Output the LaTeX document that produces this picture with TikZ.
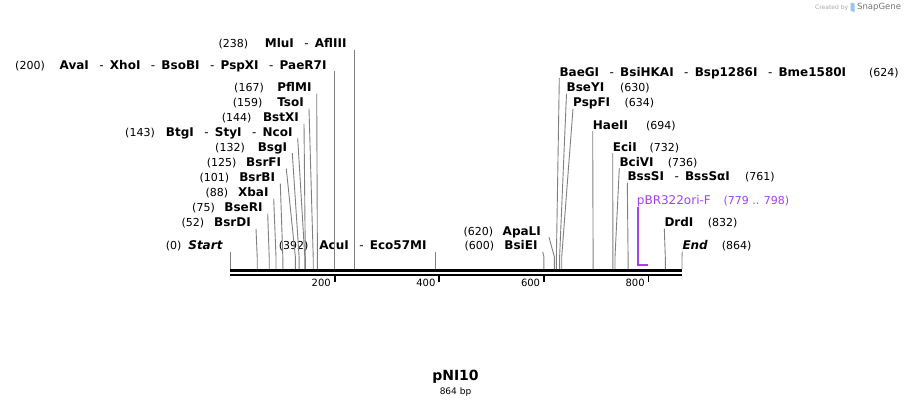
\documentclass[tikz,border=0pt]{standalone}
\usepackage{fontspec}
\setmainfont{DejaVu Sans}[BoldFont={DejaVu Sans Bold},ItalicFont={DejaVu Sans Oblique},BoldItalicFont={DejaVu Sans Bold Oblique}]
\definecolor{cutgray}{RGB}{128,128,128}
\definecolor{primerpurple}{RGB}{164,64,240}
\definecolor{snapblue}{RGB}{150,200,235}
\newcommand{\dsh}{\hspace{10.5bp}{\mdseries-}\hspace{6.2bp}}
\tikzset{
  enzname/.style={inner sep=0pt, text height=8.75bp, text depth=2bp,
    font=\fontsize{12bp}{14bp}\selectfont\bfseries},
  sitenum/.style={inner sep=0pt, font=\fontsize{11bp}{13bp}\selectfont},
  ticklbl/.style={inner sep=0pt, font=\fontsize{10bp}{12bp}\selectfont},
  cutline/.style={draw=cutgray, line width=0.9bp},
  primerline/.style={draw=primerpurple, line width=2bp},
}
\begin{document}
\begin{tikzpicture}[x=1bp,y=-1bp]
% map of pNI10, 864 bp; positions are 230 + bp*452/864
  \useasboundingbox (0,0) rectangle (912,408);
  \node[anchor=west, inner sep=0pt, text=black!35, font=\fontsize{6bp}{7bp}\selectfont] (credit) at (815,7.5) {Created by};
  \fill[snapblue] (850.5,2.5) -- (854.5,3.5) -- (854.5,12) -- (850.5,11) -- cycle;
  \node[anchor=west, inner sep=0pt, text=black!55, font=\fontsize{8.5bp}{10bp}\selectfont] (snapgene) at (857,7.5) {SnapGene};
  \coordinate (kink) at (0,257);
  \coordinate (s0) at (230,269);
  \coordinate (s52) at (257.2,269);
  \coordinate (s75) at (269.2,269);
  \coordinate (s88) at (276.0,269);
  \coordinate (s101) at (282.8,269);
  \coordinate (s125) at (295.4,269);
  \coordinate (s132) at (299.1,269);
  \coordinate (s143) at (304.8,269);
  \coordinate (s144) at (305.3,269);
  \coordinate (s159) at (313.2,269);
  \coordinate (s167) at (317.4,269);
  \coordinate (s200) at (334.6,269);
  \coordinate (s238) at (354.5,269);
  \coordinate (s392) at (435.1,269);
  \coordinate (s600) at (543.9,269);
  \coordinate (s620) at (554.4,269);
  \coordinate (s624) at (556.4,269);
  \coordinate (s630) at (559.6,269);
  \coordinate (s634) at (561.7,269);
  \coordinate (s694) at (593.1,269);
  \coordinate (s732) at (612.9,269);
  \coordinate (s736) at (615.0,269);
  \coordinate (s761) at (628.1,269);
  \coordinate (p779) at (637.5,265);
  \coordinate (p798) at (647.5,265);
  \coordinate (s832) at (665.3,269);
  \coordinate (s864) at (682.0,269);
  % backbone and ruler
  \draw[line width=3bp] (230,270) -- (682,270);
  \draw[line width=2.4bp] (230,274.8) -- (682,274.8);
  \draw[line width=1.8bp] (334.6,275.5) -- (334.6,282);
  \draw[line width=1.8bp] (439.2,275.5) -- (439.2,282);
  \draw[line width=1.8bp] (543.9,275.5) -- (543.9,282);
  \draw[line width=1.8bp] (648.5,275.5) -- (648.5,282);
  \node[ticklbl, anchor=east] (l200) at (331,282.5) {200};
  \node[ticklbl, anchor=east] (l400) at (435.6,282.5) {400};
  \node[ticklbl, anchor=east] (l600) at (540.3,282.5) {600};
  \node[ticklbl, anchor=east] (l800) at (644.9,282.5) {800};
  % labels left of their sites
  \node[sitenum, anchor=base east] (n238) at (248.3,47.5) {(238)};
  \node[enzname, anchor=base east] (mlui) at (346.7,47.5) {MluI\dsh AflIII};
  \node[sitenum, anchor=base east] (n200) at (45,69) {(200)};
  \node[enzname, anchor=base east] (paer7i) at (326.7,69) {AvaI\dsh XhoI\dsh BsoBI\dsh PspXI\dsh PaeR7I};
  \node[sitenum, anchor=base east] (n167) at (264,91.5) {(167)};
  \node[enzname, anchor=base east] (pflmi) at (311.7,91.5) {PflMI};
  \node[sitenum, anchor=base east] (n159) at (262.7,106.5) {(159)};
  \node[enzname, anchor=base east] (tsoi) at (304,106.5) {TsoI};
  \node[sitenum, anchor=base east] (n144) at (251.7,121.5) {(144)};
  \node[enzname, anchor=base east] (bstxi) at (299,121.5) {BstXI};
  \node[sitenum, anchor=base east] (n143) at (155,136) {(143)};
  \node[enzname, anchor=base east] (ncoi) at (292.7,136) {BtgI\dsh StyI\dsh NcoI};
  \node[sitenum, anchor=base east] (n132) at (245,151) {(132)};
  \node[enzname, anchor=base east] (bsgi) at (287.3,151) {BsgI};
  \node[sitenum, anchor=base east] (n125) at (236.7,166.5) {(125)};
  \node[enzname, anchor=base east] (bsrfi) at (281.3,166.5) {BsrFI};
  \node[sitenum, anchor=base east] (n101) at (229.3,181.5) {(101)};
  \node[enzname, anchor=base east] (bsrbi) at (275.3,181.5) {BsrBI};
  \node[sitenum, anchor=base east] (n88) at (228.3,196.5) {(88)};
  \node[enzname, anchor=base east] (xbai) at (268.7,196.5) {XbaI};
  \node[sitenum, anchor=base east] (n75) at (215,211.5) {(75)};
  \node[enzname, anchor=base east] (bseri) at (262.7,211.5) {BseRI};
  \node[sitenum, anchor=base east] (n52) at (204.3,226.5) {(52)};
  \node[enzname, anchor=base east] (bsrdi) at (251,226.5) {BsrDI};
  \node[sitenum, anchor=base east] (n0) at (181.7,249.5) {(0)};
  \node[enzname, anchor=base east] (start) at (222.7,249.5) {\itshape Start};
  \node[sitenum, anchor=base east] (n392) at (308.7,249.5) {(392)};
  \node[enzname, anchor=base east] (acui) at (426.7,249.5) {AcuI\dsh Eco57MI};
  \node[sitenum, anchor=base east] (n620) at (493.3,235) {(620)};
  \node[enzname, anchor=base east] (apali) at (541,235) {ApaLI};
  \node[sitenum, anchor=base east] (n600) at (494.3,249.5) {(600)};
  \node[enzname, anchor=base east] (bsiei) at (537.7,249.5) {BsiEI};
  % labels right of their sites
  \node[enzname, anchor=base west] (baegi) at (559.3,76) {BaeGI\dsh BsiHKAI\dsh Bsp1286I\dsh Bme1580I};
  \node[sitenum, anchor=base west] (n624) at (869,76) {(624)};
  \node[enzname, anchor=base west] (bseyi) at (566.5,91.5) {BseYI};
  \node[sitenum, anchor=base west] (n630) at (620,91.5) {(630)};
  \node[enzname, anchor=base west] (pspfi) at (573,106.5) {PspFI};
  \node[sitenum, anchor=base west] (n634) at (624.3,106.5) {(634)};
  \node[enzname, anchor=base west] (haeii) at (592.7,129) {HaeII};
  \node[sitenum, anchor=base west] (n694) at (646,129) {(694)};
  \node[enzname, anchor=base west] (ecii) at (612.7,151) {EciI};
  \node[sitenum, anchor=base west] (n732) at (649.3,151) {(732)};
  \node[enzname, anchor=base west] (bcivi) at (619.3,166) {BciVI};
  \node[sitenum, anchor=base west] (n736) at (667.7,166) {(736)};
  \node[enzname, anchor=base west] (bsssi) at (627.3,180.5) {BssSI\dsh BssSαI};
  \node[sitenum, anchor=base west] (n761) at (745,180.5) {(761)};
  \node[enzname, anchor=base west, text=primerpurple, font=\fontsize{12bp}{14bp}\selectfont] (orif) at (636.7,204.5) {pBR322ori-F};
  \node[sitenum, anchor=base west, text=primerpurple] (n779) at (723.3,204.5) {(779 .. 798)};
  \node[enzname, anchor=base west] (drdi) at (664.3,226.5) {DrdI};
  \node[sitenum, anchor=base west] (n832) at (707.7,226.5) {(832)};
  \node[enzname, anchor=base west] (endlbl) at (682.3,249.5) {\itshape End};
  \node[sitenum, anchor=base west] (n864) at (721.7,249.5) {(864)};
  % cut site lines
  \draw[cutline] (s0 |- start.south) -- (s0);
  \draw[cutline] ([xshift=5bp]bsrdi.south east) -- (s52 |- kink) -- (s52);
  \draw[cutline] ([xshift=5bp]bseri.south east) -- (s75 |- kink) -- (s75);
  \draw[cutline] ([xshift=5bp]xbai.south east) -- (s88 |- kink) -- (s88);
  \draw[cutline] ([xshift=5bp]bsrbi.south east) -- (s101 |- kink) -- (s101);
  \draw[cutline] ([xshift=5bp]bsrfi.south east) -- (s125 |- kink) -- (s125);
  \draw[cutline] ([xshift=5bp]bsgi.south east) -- (s132 |- kink) -- (s132);
  \draw[cutline] ([xshift=5bp]ncoi.south east) -- (s143 |- kink) -- (s143);
  \draw[cutline] ([xshift=5bp]bstxi.south east) -- (s144 |- kink) -- (s144);
  \draw[cutline] ([xshift=5bp]tsoi.south east) -- (s159 |- kink) -- (s159);
  \draw[cutline] ([xshift=5bp]pflmi.south east) -- (s167 |- kink) -- (s167);
  \draw[cutline] (s200 |- paer7i.south) -- (s200);
  \draw[cutline] (s238 |- mlui.south) -- (s238);
  \draw[cutline] (s392 |- acui.south) -- (s392);
  \draw[cutline] ([xshift=5bp]bsiei.south east) -- (s600 |- kink) -- (s600);
  \draw[cutline] ([xshift=8bp]apali.south east) -- (s620 |- kink) -- (s620);
  \draw[cutline] (baegi.south west) -- (s624 |- kink) -- (s624);
  \draw[cutline] (bseyi.south west) -- (s630 |- kink) -- (s630);
  \draw[cutline] (pspfi.south west) -- (s634 |- kink) -- (s634);
  \draw[cutline] (haeii.south west) -- (s694 |- kink) -- (s694);
  \draw[cutline] (ecii.south west) -- (s732 |- kink) -- (s732);
  \draw[cutline] (bcivi.south west) -- (s736 |- kink) -- (s736);
  \draw[cutline] (bsssi.south west) -- (s761 |- kink) -- (s761);
  \draw[cutline] (drdi.south west) -- (s832 |- kink) -- (s832);
  \draw[cutline] (endlbl.south west) -- (s864 |- kink) -- (s864);
  \draw[primerline] (p779 |- orif.south) -- (p779) -- (p798);
  % name and size
  \node[inner sep=0pt, font=\fontsize{14bp}{16bp}\selectfont\bfseries] (title) at (455.5,377) {pNI10};
  \node[inner sep=0pt, font=\fontsize{9bp}{11bp}\selectfont] (size) at (455.5,392) {864 bp};
\end{tikzpicture}
\end{document}
